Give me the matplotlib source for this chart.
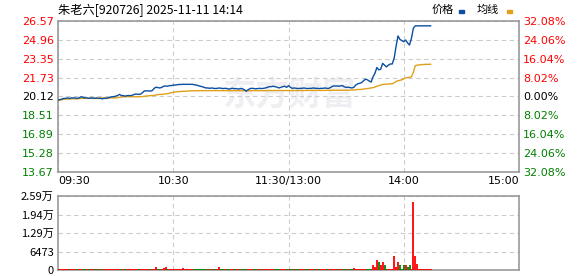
import matplotlib
matplotlib.use('Agg')
import matplotlib.pyplot as plt
from matplotlib.patches import Rectangle

plt.rcParams['font.family'] = ['DejaVu Sans', 'Noto Sans CJK SC']
CJK = ['Noto Sans CJK SC', 'DejaVu Sans']

# ---- data (one value per trading minute, 09:30 .. 14:14) ----
pre_close = 20.12
price = [19.82, 19.85, 19.90, 19.96, 19.96, 20.00, 19.96, 20.00, 20.00, 20.00,
         19.96, 20.00, 20.10, 20.05, 20.00, 20.00, 19.96, 20.00, 20.00, 19.96,
         20.00, 19.96, 19.96, 19.92, 19.96, 19.96, 20.00, 20.05, 20.10, 20.10,
         20.15, 20.20, 20.30, 20.20, 20.20, 20.15, 20.20, 20.20, 20.20, 20.25,
         20.32, 20.32, 20.30, 20.32, 20.45, 20.60, 20.60, 20.60, 20.58, 20.62,
         20.80, 20.92, 20.88, 20.85, 20.90, 21.00, 21.02, 21.00, 21.05, 21.05,
         21.10, 21.10, 21.12, 21.15, 21.15, 21.16, 21.16, 21.16, 21.16, 21.16,
         21.16, 21.12, 21.10, 21.05, 21.00, 20.96, 20.90, 20.85, 20.85, 20.82,
         20.85, 20.82, 20.80, 20.82, 20.85, 20.82, 20.80, 20.82, 20.80, 20.75,
         20.80, 20.82, 20.78, 20.80, 20.75, 20.80, 20.78, 20.70, 20.57, 20.70,
         20.80, 20.82, 20.80, 20.78, 20.80, 20.82, 20.80, 20.82, 20.85, 20.90,
         20.96, 20.96, 21.00, 20.96, 20.92, 20.85, 20.90, 20.96, 21.00, 20.90,
         21.05, 20.90, 20.82, 20.85, 20.82, 20.80, 20.82, 20.82, 20.85, 20.82,
         20.80, 20.82, 20.82, 20.85, 20.82, 20.82, 20.80, 20.82, 20.82, 20.85,
         20.82, 20.82, 20.90, 21.00, 21.02, 21.02, 21.00, 21.02, 21.05, 20.95,
         20.90, 20.92, 20.88, 20.85, 20.90, 21.10, 21.20, 21.25, 21.30, 21.45,
         21.60, 21.55, 21.45, 21.35, 21.80, 22.10, 22.60, 22.40, 22.45, 22.95,
         22.80, 22.65, 22.80, 22.90, 22.90, 23.40, 24.40, 25.30, 25.00, 24.90,
         24.80, 24.95, 24.70, 24.52, 25.10, 25.95, 26.16, 26.16, 26.16, 26.16,
         26.16, 26.16, 26.16, 26.16, 26.16]
avg = [19.78, 19.82, 19.84, 19.88, 19.90, 19.90, 19.90, 19.92, 19.92, 19.92,
       19.92, 19.94, 19.96, 19.96, 19.96, 19.96, 19.96, 19.96, 19.96, 19.96,
       19.96, 19.98, 20.00, 20.00, 20.00, 20.00, 20.00, 20.00, 20.00, 20.00,
       20.00, 20.02, 20.05, 20.08, 20.10, 20.10, 20.10, 20.10, 20.10, 20.10,
       20.10, 20.10, 20.10, 20.10, 20.12, 20.14, 20.16, 20.18, 20.20, 20.20,
       20.22, 20.25, 20.28, 20.30, 20.30, 20.32, 20.34, 20.36, 20.40, 20.44,
       20.48, 20.50, 20.52, 20.54, 20.55, 20.56, 20.57, 20.58, 20.59, 20.60,
       20.60, 20.61, 20.61, 20.62, 20.62, 20.62, 20.62, 20.62, 20.62, 20.62,
       20.62, 20.62, 20.62, 20.62, 20.62, 20.62, 20.62, 20.62, 20.62, 20.62,
       20.62, 20.62, 20.62, 20.62, 20.62, 20.62, 20.62, 20.62, 20.62, 20.62,
       20.62, 20.62, 20.62, 20.62, 20.62, 20.62, 20.62, 20.62, 20.62, 20.62,
       20.63, 20.63, 20.63, 20.63, 20.63, 20.63, 20.63, 20.63, 20.63, 20.63,
       20.63, 20.63, 20.63, 20.63, 20.63, 20.63, 20.63, 20.63, 20.63, 20.63,
       20.64, 20.64, 20.64, 20.64, 20.64, 20.64, 20.64, 20.64, 20.64, 20.64,
       20.65, 20.65, 20.65, 20.65, 20.65, 20.65, 20.65, 20.65, 20.65, 20.65,
       20.66, 20.66, 20.67, 20.67, 20.68, 20.70, 20.72, 20.72, 20.73, 20.75,
       20.78, 20.80, 20.82, 20.85, 20.88, 20.92, 21.00, 21.05, 21.10, 21.15,
       21.16, 21.18, 21.18, 21.20, 21.20, 21.30, 21.40, 21.47, 21.50, 21.55,
       21.62, 21.70, 21.74, 21.76, 21.80, 22.20, 22.75, 22.80, 22.82, 22.84,
       22.85, 22.86, 22.87, 22.87, 22.88]
volume = [400, 300, 250, 300, 200, 250, 300, 200, 250, 300,
          250, 300, 350, 250, 200, 300, 250, 200, 300, 250,
          300, 250, 200, 250, 300, 350, 250, 300, 350, 250,
          300, 350, 400, 250, 300, 200, 250, 300, 250, 300,
          350, 250, 300, 250, 350, 400, 300, 250, 300, 350,
          450, 1050, 300, 350, 300, 700, 1000, 300, 350, 300,
          250, 300, 350, 250, 300, 700, 300, 250, 300, 250,
          300, 250, 300, 350, 250, 300, 250, 300, 250, 300,
          250, 300, 250, 300, 900, 300, 250, 300, 250, 300,
          250, 300, 250, 300, 250, 300, 250, 300, 400, 300,
          250, 300, 250, 300, 250, 300, 250, 300, 250, 300,
          300, 250, 300, 250, 300, 250, 300, 250, 300, 350,
          300, 250, 300, 250, 300, 250, 300, 250, 300, 250,
          300, 250, 300, 250, 300, 250, 300, 250, 300, 250,
          300, 250, 300, 350, 300, 250, 300, 250, 300, 250,
          300, 250, 300, 250, 700, 300, 400, 500, 300, 400,
          350, 300, 400, 350, 1750, 1150, 3500, 2800, 1600, 2800,
          1600, 400, 400, 400, 300, 4900, 950, 2800, 1600, 400,
          1600, 1600, 1200, 1600, 500, 23700, 4900, 2100, 400, 400,
          400, 400, 400, 400, 400]
price_ticks = [13.67, 15.28, 16.89, 18.51, 20.12, 21.73, 23.35, 24.96, 26.57]
pct_labels = ['32.08%', '24.06%', '16.04%', '8.02%', '0.00%',
              '8.02%', '16.04%', '24.06%', '32.08%']
vol_ticks = [0, 6473, 12947, 19420, 25894]
vol_labels = ['0', '6473', '1.29万', '1.94万', '2.59万']
time_pos = [0, 60, 120, 180, 240]
time_labels = ['09:30', '10:30', '11:30/13:00', '14:00', '15:00']

RED = '#ff0000'
GREEN = '#008000'
BLUE = '#0b4ea2'
ORANGE = '#e0a01a'
SPINE = '#999999'
GRID = '#cccccc'

W, H = 578, 276
fig = plt.figure(figsize=(W / 100, H / 100), dpi=100)

def box(l, t, r, b):
    return [l / W, 1 - b / H, (r - l) / W, (b - t) / H]

def tick_colour(v):
    if v > pre_close + 0.01:
        return RED
    if v < pre_close - 0.01:
        return GREEN
    return 'black'

minutes = list(range(len(price)))

# ---- price panel ----
ax = fig.add_axes(box(58, 21, 519, 172))
ax.text(0.5, 0.5, '东方财富', transform=ax.transAxes, ha='center', va='center',
        fontsize=24, fontweight='bold', style='italic', color='#efeff3',
        family=CJK, zorder=0)
ax.plot(minutes, avg, color=ORANGE, lw=1.0, zorder=3)
ax.plot(minutes, price, color=BLUE, lw=1.0, zorder=4)
ax.set_xlim(0, 240)
ax.set_ylim(pre_close - 6.454, pre_close + 6.454)
ax.set_yticks(price_ticks)
ax.set_yticklabels(['%.2f' % v for v in price_ticks])
for lab, v in zip(ax.get_yticklabels(), price_ticks):
    lab.set_color(tick_colour(v))
ax.set_xticks(time_pos)
ax.set_xticklabels(time_labels)
xl = ax.get_xticklabels()
xl[0].set_ha('left')
xl[-1].set_ha('right')
ax.tick_params(length=0, labelsize=8, pad=3)
ax.grid(True, color=GRID, ls='--', lw=0.8, dashes=(4, 3))
for s in ax.spines.values():
    s.set_color(SPINE)
    s.set_linewidth(1.2)

ax2 = ax.twinx()
ax2.set_ylim(ax.get_ylim())
ax2.set_yticks(price_ticks)
ax2.set_yticklabels(pct_labels[::-1])
for lab, v in zip(ax2.get_yticklabels(), price_ticks):
    lab.set_color(tick_colour(v))
ax2.tick_params(length=0, labelsize=8, pad=3)
for s in ax2.spines.values():
    s.set_visible(False)

# ---- volume panel ----
axv = fig.add_axes(box(58, 196, 519, 270))
colors = [RED] + [RED if price[i] >= price[i - 1] else GREEN for i in range(1, len(price))]
axv.vlines(minutes, 0, volume, colors=colors, lw=1.3, zorder=3)
axv.set_xlim(0, 240)
axv.set_ylim(0, vol_ticks[-1])
axv.set_yticks(vol_ticks)
axv.set_yticklabels(vol_labels, family=CJK)
axv.set_xticks([60, 120, 180])
axv.set_xticklabels([])
axv.tick_params(length=0, labelsize=8, pad=3)
axv.grid(True, color=GRID, ls='--', lw=0.8, dashes=(4, 3))
for s in axv.spines.values():
    s.set_color(SPINE)
    s.set_linewidth(1.2)

# ---- header ----
fig.text(58 / W, 1 - 10 / H, '朱老六[920726] 2025-11-11 14:14', family=CJK,
         fontsize=8.8, va='center', ha='left')
fig.text(432 / W, 1 - 10 / H, '价格', family=CJK, fontsize=8, va='center', ha='left')
fig.text(477 / W, 1 - 10 / H, '均线', family=CJK, fontsize=8, va='center', ha='left')
fig.add_artist(Rectangle((459 / W, 1 - 13 / H), 5 / W, 3 / H, color=BLUE,
                         transform=fig.transFigure))
fig.add_artist(Rectangle((507 / W, 1 - 13 / H), 5 / W, 3 / H, color=ORANGE,
                         transform=fig.transFigure))

fig.savefig('out.png', dpi=100)
